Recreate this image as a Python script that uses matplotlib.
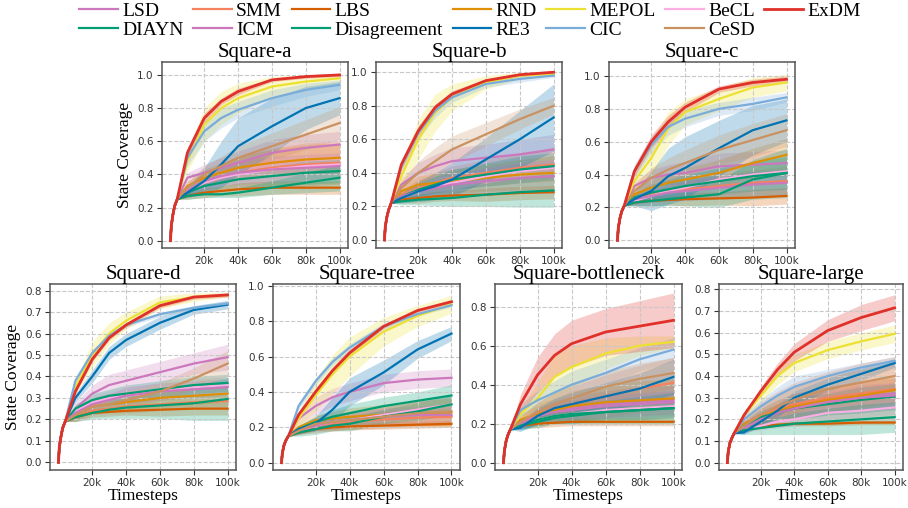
import numpy as np
import matplotlib
matplotlib.use("Agg")
import matplotlib.pyplot as plt

# ---------------- data ----------------
methods = ['LSD', 'SMM', 'LBS', 'RND', 'MEPOL', 'BeCL', 'ExDM',
           'DIAYN', 'ICM', 'Disagreement', 'RE3', 'CIC', 'CeSD']
colors = ['#cc78bc', '#f5815f', '#d55e00', '#de8f05', '#ece133', '#fbafe4', '#e0302a',
          '#029e73', '#cc78bc', '#029e73', '#0173b2', '#79acd9', '#ca9161']

titles = ['Square-a', 'Square-b', 'Square-c',
          'Square-d', 'Square-tree', 'Square-bottleneck', 'Square-large']

# shared warm-up segment (all methods identical there)
start_x = [0, 500, 1500, 2500, 4000]
# evaluation points after the curves split
steps = [10000, 20000, 30000, 40000, 60000, 80000, 100000]

sq_a_start = [0, 0.09, 0.16, 0.21, 0.25]
sq_a_mean = [
    [0.38, 0.41, 0.44, 0.47, 0.53, 0.56, 0.58],   # LSD
    [0.30, 0.35, 0.38, 0.41, 0.44, 0.46, 0.47],   # SMM
    [0.27, 0.29, 0.30, 0.31, 0.32, 0.32, 0.32],   # LBS
    [0.33, 0.38, 0.41, 0.44, 0.47, 0.49, 0.50],   # RND
    [0.48, 0.70, 0.80, 0.86, 0.93, 0.96, 0.98],   # MEPOL
    [0.30, 0.35, 0.38, 0.40, 0.43, 0.45, 0.46],   # BeCL
    [0.53, 0.74, 0.84, 0.90, 0.97, 0.99, 1.00],   # ExDM
    [0.29, 0.33, 0.35, 0.37, 0.39, 0.41, 0.42],   # DIAYN
    [0.30, 0.36, 0.39, 0.41, 0.43, 0.44, 0.45],   # ICM
    [0.27, 0.28, 0.28, 0.29, 0.32, 0.35, 0.38],   # Disagreement
    [0.29, 0.36, 0.46, 0.57, 0.69, 0.80, 0.86],   # RE3
    [0.50, 0.66, 0.74, 0.79, 0.86, 0.91, 0.94],   # CIC
    [0.32, 0.40, 0.45, 0.50, 0.57, 0.64, 0.71],   # CeSD
]
sq_a_std = [
    [0.03, 0.05, 0.06, 0.07, 0.08, 0.08, 0.08],
    [0.03, 0.06, 0.08, 0.10, 0.12, 0.13, 0.13],
    [0.02, 0.03, 0.03, 0.04, 0.04, 0.04, 0.04],
    [0.03, 0.05, 0.06, 0.07, 0.08, 0.09, 0.09],
    [0.06, 0.10, 0.10, 0.09, 0.06, 0.04, 0.03],
    [0.02, 0.03, 0.04, 0.04, 0.05, 0.05, 0.05],
    [0.03, 0.03, 0.02, 0.02, 0.01, 0.01, 0.01],
    [0.02, 0.03, 0.04, 0.05, 0.06, 0.07, 0.07],
    [0.03, 0.05, 0.06, 0.07, 0.08, 0.08, 0.08],
    [0.02, 0.02, 0.02, 0.03, 0.04, 0.06, 0.08],
    [0.03, 0.08, 0.14, 0.17, 0.17, 0.13, 0.10],
    [0.05, 0.06, 0.06, 0.05, 0.05, 0.04, 0.03],
    [0.03, 0.05, 0.06, 0.07, 0.08, 0.09, 0.10],
]

sq_b_start = [0, 0.08, 0.14, 0.18, 0.22]
sq_b_mean = [
    [0.33, 0.40, 0.44, 0.47, 0.49, 0.51, 0.54],
    [0.27, 0.31, 0.34, 0.37, 0.40, 0.43, 0.45],
    [0.24, 0.25, 0.26, 0.265, 0.27, 0.28, 0.285],
    [0.29, 0.33, 0.34, 0.35, 0.37, 0.39, 0.40],
    [0.38, 0.60, 0.76, 0.85, 0.94, 0.98, 0.99],
    [0.26, 0.30, 0.32, 0.34, 0.38, 0.41, 0.43],
    [0.45, 0.65, 0.79, 0.87, 0.95, 0.985, 1.00],
    [0.26, 0.30, 0.33, 0.36, 0.39, 0.42, 0.44],
    [0.26, 0.29, 0.31, 0.33, 0.35, 0.37, 0.38],
    [0.23, 0.24, 0.245, 0.25, 0.27, 0.285, 0.295],
    [0.25, 0.29, 0.32, 0.36, 0.48, 0.60, 0.73],
    [0.44, 0.64, 0.77, 0.85, 0.93, 0.96, 0.98],
    [0.31, 0.40, 0.47, 0.54, 0.63, 0.72, 0.80],
]
sq_b_std = [
    [0.04, 0.06, 0.07, 0.08, 0.08, 0.09, 0.09],
    [0.03, 0.05, 0.06, 0.07, 0.08, 0.09, 0.10],
    [0.02, 0.03, 0.03, 0.03, 0.04, 0.04, 0.04],
    [0.03, 0.05, 0.06, 0.07, 0.08, 0.09, 0.10],
    [0.07, 0.12, 0.11, 0.08, 0.04, 0.02, 0.01],
    [0.02, 0.03, 0.04, 0.05, 0.05, 0.06, 0.06],
    [0.03, 0.03, 0.02, 0.02, 0.01, 0.01, 0.01],
    [0.02, 0.04, 0.05, 0.06, 0.07, 0.08, 0.08],
    [0.03, 0.05, 0.06, 0.07, 0.08, 0.09, 0.10],
    [0.02, 0.03, 0.04, 0.05, 0.07, 0.09, 0.10],
    [0.03, 0.06, 0.08, 0.10, 0.13, 0.17, 0.20],
    [0.03, 0.04, 0.04, 0.03, 0.02, 0.02, 0.01],
    [0.04, 0.07, 0.08, 0.08, 0.07, 0.06, 0.05],
]

sq_c_start = [0, 0.075, 0.135, 0.175, 0.21]
sq_c_mean = [
    [0.33, 0.38, 0.40, 0.41, 0.45, 0.46, 0.47],
    [0.25, 0.28, 0.30, 0.31, 0.33, 0.35, 0.36],
    [0.23, 0.24, 0.245, 0.25, 0.255, 0.26, 0.27],
    [0.28, 0.32, 0.35, 0.37, 0.41, 0.47, 0.52],
    [0.36, 0.50, 0.68, 0.78, 0.86, 0.93, 0.96],
    [0.24, 0.27, 0.30, 0.32, 0.37, 0.40, 0.42],
    [0.42, 0.60, 0.72, 0.81, 0.92, 0.96, 0.98],
    [0.26, 0.29, 0.31, 0.33, 0.36, 0.39, 0.41],
    [0.25, 0.27, 0.29, 0.30, 0.32, 0.34, 0.35],
    [0.23, 0.24, 0.25, 0.26, 0.28, 0.37, 0.41],
    [0.25, 0.30, 0.39, 0.44, 0.56, 0.67, 0.73],
    [0.42, 0.58, 0.69, 0.74, 0.80, 0.83, 0.87],
    [0.30, 0.38, 0.43, 0.47, 0.55, 0.61, 0.67],
]
sq_c_std = [
    [0.03, 0.05, 0.06, 0.07, 0.08, 0.08, 0.08],
    [0.03, 0.04, 0.05, 0.06, 0.07, 0.08, 0.09],
    [0.02, 0.03, 0.03, 0.04, 0.04, 0.05, 0.05],
    [0.03, 0.05, 0.06, 0.07, 0.08, 0.09, 0.10],
    [0.06, 0.12, 0.10, 0.08, 0.07, 0.06, 0.05],
    [0.02, 0.03, 0.04, 0.05, 0.06, 0.07, 0.07],
    [0.03, 0.04, 0.04, 0.03, 0.02, 0.02, 0.02],
    [0.03, 0.05, 0.06, 0.07, 0.08, 0.09, 0.10],
    [0.03, 0.04, 0.05, 0.06, 0.07, 0.08, 0.08],
    [0.02, 0.03, 0.04, 0.05, 0.08, 0.12, 0.15],
    [0.04, 0.12, 0.17, 0.19, 0.17, 0.15, 0.13],
    [0.04, 0.05, 0.05, 0.05, 0.04, 0.04, 0.03],
    [0.04, 0.06, 0.07, 0.08, 0.09, 0.10, 0.10],
]

sq_d_start = [0, 0.07, 0.12, 0.16, 0.19]
sq_d_mean = [
    [0.25, 0.32, 0.36, 0.38, 0.42, 0.46, 0.49],
    [0.21, 0.24, 0.25, 0.26, 0.27, 0.28, 0.285],
    [0.21, 0.23, 0.235, 0.24, 0.245, 0.25, 0.25],
    [0.22, 0.26, 0.27, 0.28, 0.30, 0.31, 0.32],
    [0.35, 0.50, 0.60, 0.66, 0.745, 0.77, 0.78],
    [0.24, 0.28, 0.30, 0.31, 0.33, 0.35, 0.36],
    [0.33, 0.48, 0.58, 0.64, 0.73, 0.77, 0.78],
    [0.25, 0.29, 0.31, 0.32, 0.34, 0.36, 0.37],
    [0.23, 0.27, 0.29, 0.31, 0.33, 0.34, 0.35],
    [0.21, 0.23, 0.245, 0.255, 0.265, 0.275, 0.295],
    [0.30, 0.40, 0.51, 0.57, 0.65, 0.71, 0.735],
    [0.38, 0.51, 0.59, 0.64, 0.69, 0.72, 0.74],
    [0.22, 0.26, 0.27, 0.29, 0.33, 0.39, 0.46],
]
sq_d_std = [
    [0.03, 0.04, 0.05, 0.05, 0.05, 0.05, 0.06],
    [0.02, 0.02, 0.02, 0.03, 0.03, 0.03, 0.03],
    [0.02, 0.02, 0.02, 0.02, 0.03, 0.03, 0.03],
    [0.02, 0.03, 0.03, 0.03, 0.04, 0.04, 0.04],
    [0.03, 0.06, 0.05, 0.04, 0.03, 0.02, 0.01],
    [0.02, 0.03, 0.03, 0.04, 0.04, 0.04, 0.04],
    [0.01, 0.01, 0.01, 0.01, 0.01, 0.01, 0.01],
    [0.02, 0.03, 0.03, 0.04, 0.04, 0.04, 0.04],
    [0.02, 0.03, 0.03, 0.04, 0.04, 0.04, 0.04],
    [0.02, 0.03, 0.04, 0.05, 0.06, 0.08, 0.10],
    [0.02, 0.03, 0.03, 0.03, 0.03, 0.02, 0.02],
    [0.01, 0.01, 0.01, 0.01, 0.01, 0.01, 0.01],
    [0.02, 0.03, 0.03, 0.04, 0.04, 0.05, 0.06],
]

sq_tree_start = [0, 0.055, 0.10, 0.125, 0.15]
sq_tree_mean = [
    [0.25, 0.32, 0.37, 0.40, 0.45, 0.47, 0.48],
    [0.18, 0.21, 0.22, 0.23, 0.245, 0.255, 0.26],
    [0.17, 0.19, 0.20, 0.205, 0.21, 0.215, 0.22],
    [0.20, 0.24, 0.25, 0.26, 0.27, 0.28, 0.285],
    [0.25, 0.38, 0.50, 0.60, 0.74, 0.83, 0.895],
    [0.18, 0.21, 0.23, 0.24, 0.27, 0.30, 0.33],
    [0.27, 0.40, 0.52, 0.62, 0.77, 0.86, 0.91],
    [0.19, 0.23, 0.26, 0.28, 0.32, 0.35, 0.38],
    [0.18, 0.21, 0.23, 0.24, 0.26, 0.27, 0.27],
    [0.17, 0.19, 0.21, 0.22, 0.26, 0.29, 0.33],
    [0.19, 0.22, 0.30, 0.40, 0.51, 0.64, 0.73],
    [0.32, 0.46, 0.57, 0.65, 0.77, 0.84, 0.89],
    [0.18, 0.22, 0.23, 0.24, 0.26, 0.28, 0.29],
]
sq_tree_std = [
    [0.03, 0.05, 0.05, 0.05, 0.05, 0.05, 0.05],
    [0.02, 0.03, 0.04, 0.04, 0.05, 0.05, 0.05],
    [0.01, 0.02, 0.02, 0.02, 0.02, 0.02, 0.02],
    [0.02, 0.03, 0.04, 0.05, 0.06, 0.07, 0.08],
    [0.04, 0.09, 0.11, 0.11, 0.08, 0.06, 0.05],
    [0.02, 0.03, 0.03, 0.04, 0.04, 0.05, 0.05],
    [0.02, 0.02, 0.02, 0.02, 0.01, 0.01, 0.01],
    [0.02, 0.03, 0.04, 0.05, 0.05, 0.05, 0.06],
    [0.02, 0.03, 0.04, 0.04, 0.05, 0.05, 0.05],
    [0.02, 0.03, 0.03, 0.04, 0.04, 0.05, 0.06],
    [0.02, 0.04, 0.07, 0.08, 0.07, 0.05, 0.04],
    [0.02, 0.02, 0.02, 0.02, 0.02, 0.01, 0.01],
    [0.02, 0.03, 0.04, 0.05, 0.06, 0.07, 0.08],
]

sq_bn_start = [0, 0.06, 0.11, 0.14, 0.17]
sq_bn_mean = [
    [0.21, 0.25, 0.27, 0.28, 0.30, 0.31, 0.32],
    [0.21, 0.25, 0.28, 0.30, 0.34, 0.38, 0.41],
    [0.19, 0.20, 0.205, 0.21, 0.21, 0.21, 0.21],
    [0.22, 0.25, 0.27, 0.29, 0.31, 0.32, 0.33],
    [0.25, 0.33, 0.44, 0.49, 0.56, 0.60, 0.62],
    [0.19, 0.22, 0.24, 0.25, 0.27, 0.28, 0.29],
    [0.30, 0.45, 0.55, 0.61, 0.67, 0.70, 0.73],
    [0.19, 0.21, 0.23, 0.24, 0.26, 0.27, 0.28],
    [0.20, 0.24, 0.26, 0.27, 0.29, 0.30, 0.31],
    [0.19, 0.22, 0.24, 0.25, 0.26, 0.27, 0.28],
    [0.18, 0.24, 0.28, 0.30, 0.34, 0.38, 0.44],
    [0.27, 0.32, 0.36, 0.40, 0.46, 0.53, 0.58],
    [0.21, 0.26, 0.30, 0.33, 0.39, 0.43, 0.46],
]
sq_bn_std = [
    [0.02, 0.04, 0.05, 0.06, 0.07, 0.08, 0.08],
    [0.03, 0.06, 0.08, 0.09, 0.11, 0.12, 0.13],
    [0.01, 0.02, 0.02, 0.02, 0.02, 0.02, 0.02],
    [0.03, 0.05, 0.06, 0.08, 0.09, 0.10, 0.10],
    [0.03, 0.08, 0.11, 0.11, 0.08, 0.05, 0.03],
    [0.02, 0.03, 0.04, 0.05, 0.05, 0.06, 0.06],
    [0.05, 0.09, 0.11, 0.12, 0.12, 0.13, 0.14],
    [0.02, 0.03, 0.03, 0.04, 0.04, 0.05, 0.05],
    [0.02, 0.04, 0.05, 0.05, 0.06, 0.06, 0.06],
    [0.02, 0.03, 0.04, 0.05, 0.06, 0.07, 0.08],
    [0.02, 0.04, 0.05, 0.06, 0.07, 0.08, 0.09],
    [0.03, 0.05, 0.06, 0.07, 0.07, 0.06, 0.06],
    [0.03, 0.05, 0.06, 0.07, 0.08, 0.08, 0.08],
]

sq_large_start = [0, 0.05, 0.09, 0.11, 0.135]
sq_large_mean = [
    [0.17, 0.21, 0.24, 0.26, 0.29, 0.31, 0.32],
    [0.18, 0.22, 0.25, 0.27, 0.30, 0.32, 0.34],
    [0.15, 0.17, 0.175, 0.18, 0.18, 0.185, 0.185],
    [0.18, 0.21, 0.24, 0.26, 0.29, 0.31, 0.335],
    [0.22, 0.31, 0.40, 0.46, 0.52, 0.56, 0.595],
    [0.15, 0.17, 0.19, 0.20, 0.23, 0.24, 0.255],
    [0.22, 0.33, 0.43, 0.51, 0.61, 0.67, 0.715],
    [0.17, 0.21, 0.23, 0.25, 0.27, 0.29, 0.305],
    [0.16, 0.20, 0.23, 0.25, 0.28, 0.30, 0.31],
    [0.15, 0.16, 0.17, 0.18, 0.19, 0.20, 0.21],
    [0.14, 0.19, 0.24, 0.30, 0.36, 0.41, 0.46],
    [0.20, 0.26, 0.31, 0.35, 0.40, 0.44, 0.47],
    [0.17, 0.22, 0.26, 0.29, 0.34, 0.37, 0.40],
]
sq_large_std = [
    [0.02, 0.04, 0.05, 0.06, 0.06, 0.07, 0.07],
    [0.03, 0.06, 0.08, 0.10, 0.12, 0.14, 0.15],
    [0.01, 0.01, 0.01, 0.01, 0.01, 0.01, 0.01],
    [0.02, 0.04, 0.05, 0.06, 0.06, 0.06, 0.06],
    [0.02, 0.03, 0.04, 0.04, 0.04, 0.04, 0.04],
    [0.01, 0.02, 0.03, 0.03, 0.03, 0.03, 0.03],
    [0.01, 0.02, 0.03, 0.04, 0.05, 0.06, 0.06],
    [0.02, 0.03, 0.04, 0.05, 0.05, 0.06, 0.06],
    [0.02, 0.03, 0.04, 0.05, 0.05, 0.06, 0.06],
    [0.02, 0.03, 0.04, 0.05, 0.06, 0.07, 0.07],
    [0.01, 0.02, 0.03, 0.03, 0.03, 0.03, 0.02],
    [0.02, 0.03, 0.04, 0.05, 0.03, 0.02, 0.02],
    [0.02, 0.04, 0.05, 0.06, 0.06, 0.06, 0.06],
]

starts = [sq_a_start, sq_b_start, sq_c_start, sq_d_start, sq_tree_start, sq_bn_start, sq_large_start]
means = [sq_a_mean, sq_b_mean, sq_c_mean, sq_d_mean, sq_tree_mean, sq_bn_mean, sq_large_mean]
stds = [sq_a_std, sq_b_std, sq_c_std, sq_d_std, sq_tree_std, sq_bn_std, sq_large_std]
ylims = [(-0.044, 1.078), (-0.048, 1.061), (-0.047, 1.085),
         (-0.036, 0.831), (-0.041, 1.01), (-0.037, 0.916), (-0.034, 0.825)]
ysteps = [0.2, 0.2, 0.2, 0.1, 0.2, 0.2, 0.1]

# ---------------- plot ----------------
serif = 'Liberation Serif'
W, H = 908, 508
fig = plt.figure(figsize=(W / 100, H / 100), dpi=100)

# axes boxes in pixels: left, top, width, height
boxes = [(162, 62, 186, 186), (376, 62, 186, 186), (609, 62, 186, 186),
         (50, 284, 186, 186), (273, 284, 187, 186), (495, 284, 187, 186), (719, 284, 184, 186)]

x = np.array(start_x + steps)
order = [i for i in range(len(methods)) if methods[i] != 'ExDM'] + [methods.index('ExDM')]
handles = {}
for k, (l, t, w, h) in enumerate(boxes):
    ax = fig.add_axes([l / W, 1 - (t + h) / H, w / W, h / H])
    for i in order:
        m = np.array(starts[k] + means[k][i])
        s = np.array([0] * len(start_x) + stds[k][i])
        ax.fill_between(x, m - s, m + s, color=colors[i], alpha=0.25, lw=0)
        lw = 2.0 if methods[i] == 'ExDM' else 1.6
        ln, = ax.plot(x, m, color=colors[i], lw=lw, zorder=3 if methods[i] == 'ExDM' else 2)
        handles[methods[i]] = ln
    ax.set_xlim(-5000, 105000)
    ax.set_ylim(*ylims[k])
    ax.set_xticks([20000, 40000, 60000, 80000, 100000])
    ax.set_xticklabels(['20k', '40k', '60k', '80k', '100k'])
    ax.set_yticks(np.arange(0, ylims[k][1], ysteps[k]))
    ax.grid(True, ls='--', color='#c8c8c8', lw=0.8)
    ax.tick_params(labelsize=7.5, colors='#333333', length=3.5, pad=2.5)
    for sp in ax.spines.values():
        sp.set_color('#555555')
        sp.set_linewidth(1.1)
    ax.set_title(titles[k], fontsize=15, family=serif, pad=2)
    if k in (0, 3):
        ax.set_ylabel('State Coverage', fontsize=12.5, family=serif, labelpad=3)
    if k >= 3:
        ax.set_xlabel('Timesteps', fontsize=12.5, family=serif, labelpad=0)

leg_order = ['LSD', 'DIAYN', 'SMM', 'ICM', 'LBS', 'Disagreement', 'RND', 'RE3',
             'MEPOL', 'CIC', 'BeCL', 'CeSD', 'ExDM']
fig.legend([handles[n] for n in leg_order], leg_order, loc='upper center',
           bbox_to_anchor=(470 / W, 1.03), ncol=7, frameon=False,
           prop={'family': serif, 'size': 14}, handlelength=2.0,
           columnspacing=0.5, handletextpad=0.2, labelspacing=0.08)

fig.savefig('out.png', dpi=100)
